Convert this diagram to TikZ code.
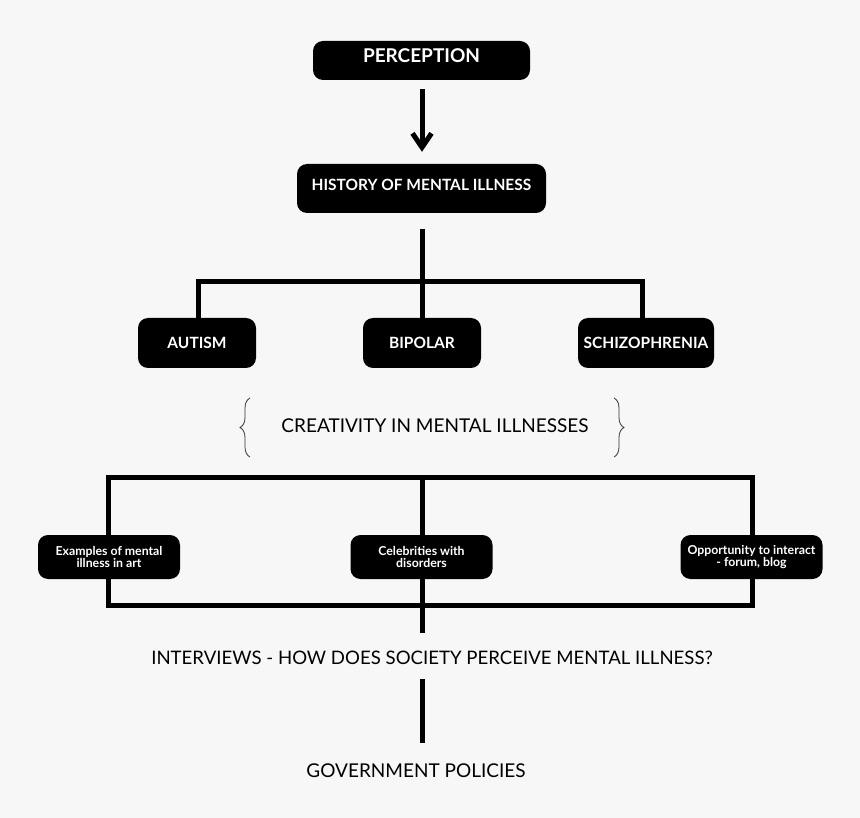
\documentclass[tikz,border=0pt]{standalone}
\usepackage{fontspec}
\setmainfont{Lato}
\usetikzlibrary{arrows.meta,decorations.pathreplacing}
\definecolor{sfondo}{HTML}{F7F7F7}

\tikzset{
    box/.style={fill=black, text=white, rounded corners=10pt, inner sep=0pt, align=center,
        font=\bfseries\fontsize{15.5}{18}\selectfont},
    smallbox/.style={box, minimum width=142pt, minimum height=44pt,
        font=\bfseries\fontsize{12.3}{12.5}\selectfont},
    link/.style={line width=5pt},
    plaintext/.style={font=\fontsize{19}{22}\selectfont},
    curly/.style={decorate, decoration={brace, amplitude=10pt}, line width=0.8pt, draw=black!80}
}

\begin{document}
\begin{tikzpicture}[x=1pt,y=-1pt]
    \fill[sfondo] (0,0) rectangle (860,818);
    \useasboundingbox (0,0) rectangle (860,818);

    % Disegna i riquadri
    \node[box, minimum width=217pt, minimum height=39pt, text depth=9pt,
        font=\bfseries\fontsize{19}{22}\selectfont] (perc) at (421.5,60.5) {PERCEPTION};
    \node[box, minimum width=249pt, minimum height=49pt, text depth=7pt] (hist) at (421.5,188.5) {HISTORY OF MENTAL ILLNESS};
    \node[box, minimum width=118pt, minimum height=50pt] (autism) at (197,343) {AUTISM};
    \node[box, minimum width=118pt, minimum height=50pt] (bipolar) at (422,343) {BIPOLAR};
    \node[box, minimum width=136pt, minimum height=50pt] (schizo) at (646,343) {SCHIZOPHRENIA};

    % Testi
    \node[plaintext] (crea) at (435,426) {CREATIVITY IN MENTAL ILLNESSES};
    \node[plaintext, font=\fontsize{18.6}{22}\selectfont] (interv) at (432,658) {INTERVIEWS - HOW DOES SOCIETY PERCEIVE MENTAL ILLNESS?};
    \node[plaintext] (gov) at (416,771) {GOVERNMENT POLICIES};

    % Parentesi
    \draw[curly] (250,457) -- (250,398);
    \draw[curly] (614,398) -- (614,457);

    % Collegamenti
    \coordinate (split) at (422,282);
    \coordinate (top) at (422,477);
    \draw[link, -{Straight Barb[length=14pt,width=19pt]}] ([yshift=-9pt]perc.south -| split) -- ([yshift=12pt]hist.north -| split);
    \draw[link] ([yshift=-16pt]hist.south -| split) -- (split);
    \draw[link] (autism.north -| 198,0) |- (split) -| (schizo.north -| 642,0);
    \draw[link] (split) -- (bipolar.north);
    \draw[link] (108,477) rectangle (752,605);
    \draw[link] (top) -- ([yshift=15pt]interv.north -| top);
    \draw[link] ([yshift=-11pt]interv.south -| top) -- ([yshift=18pt]gov.north -| top);

    % Riquadri piccoli
    \node[smallbox] (examples) at (109,557) {Examples of mental\\illness in art};
    \node[smallbox] (celeb) at (421.5,557) {Celebrities with\\disorders};
    \node[smallbox] (forum) at (751.5,557) {Opportunity to interact\\- forum, blog};
\end{tikzpicture}
\end{document}
